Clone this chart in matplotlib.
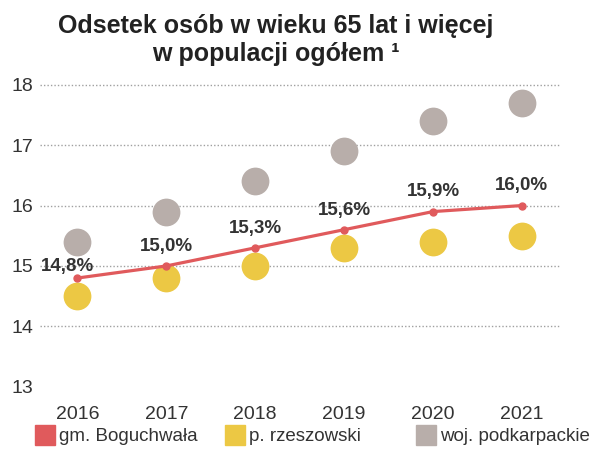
import matplotlib.pyplot as plt
from matplotlib.lines import Line2D

plt.rcParams['font.family'] = ['Liberation Sans', 'DejaVu Sans']

# --- DATA ---
years = [2016, 2017, 2018, 2019, 2020, 2021]
gmina = [14.8, 15.0, 15.3, 15.6, 15.9, 16.0]
powiat = [14.5, 14.8, 15.0, 15.3, 15.4, 15.5]
wojewodztwo = [15.4, 15.9, 16.4, 16.9, 17.4, 17.7]
gmina_labels = ["14,8%", "15,0%", "15,3%", "15,6%", "15,9%", "16,0%"]
yticks = [13, 14, 15, 16, 17, 18]
grid_levels = [14, 15, 16, 17, 18]

RED = "#e05a5c"
YELLOW = "#ecc844"
GRAY = "#b8aeaa"
TXT = "#333333"

fig = plt.figure(figsize=(5.99, 4.49), dpi=100)
ax = fig.add_axes([0.067, 0.105, 0.868, 0.713])

ax.scatter(years, wojewodztwo, s=400, color=GRAY, zorder=2, linewidths=0)
ax.scatter(years, powiat, s=400, color=YELLOW, zorder=2, linewidths=0)
ax.plot(years, gmina, color=RED, lw=2.3, marker="o", ms=5, zorder=3)

# etichette sopra la linea rossa
for i, (x, y, lab) in enumerate(zip(years, gmina, gmina_labels)):
    dy = 2 if i == 0 else 8
    dx = -7 if i == 0 else 0
    ax.annotate(lab, xy=(x, y), xytext=(dx, dy), textcoords="offset points",
                ha="center", va="bottom", fontsize=13.5, fontweight="bold",
                color=TXT, zorder=4)

ax.set_xlim(2015.58, 2021.43)
ax.set_ylim(12.75, 18.05)
ax.set_xticks(years)
ax.set_yticks(yticks)
ax.tick_params(axis="both", length=0, labelsize=14, colors=TXT)
ax.tick_params(axis="x", pad=3)
ax.tick_params(axis="y", pad=5)

for v in grid_levels:
    ax.axhline(v, color="#a0a0a0", lw=1, ls=(0, (1, 1.5)), zorder=1)

for s in ax.spines.values():
    s.set_visible(False)

fig.text(0.46, 0.968, "Odsetek osób w wieku 65 lat i więcej\nw populacji ogółem ¹",
         ha="center", va="top", fontsize=18, fontweight="bold",
         color="#222222", linespacing=1.2)

# legenda
items = [(RED, "gm. Boguchwała", 0.060), (YELLOW, "p. rzeszowski", 0.377),
         (GRAY, "woj. podkarpackie", 0.696)]
for col, lab, xpos in items:
    h = Line2D([], [], marker="s", ls="none", color=col, markersize=14.5)
    fig.legend([h], [lab], loc="center left", bbox_to_anchor=(xpos, 0.027),
               frameon=False, fontsize=13.5, handletextpad=0.25,
               borderpad=0, borderaxespad=0, handlelength=1.0,
               labelcolor=TXT)

plt.savefig("out.png", dpi=100)
